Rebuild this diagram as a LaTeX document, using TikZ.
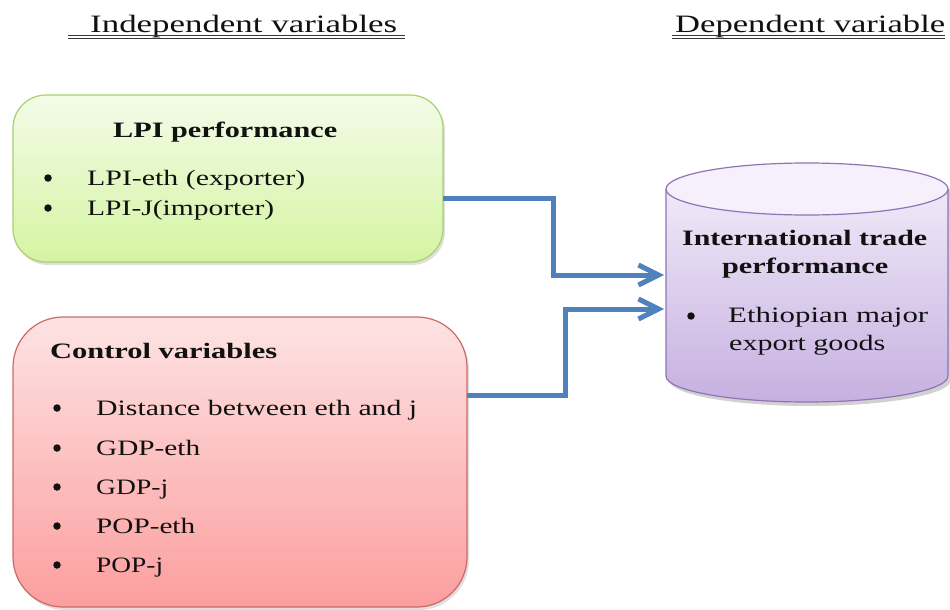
\documentclass[tikz,border=0pt]{standalone}
\usepackage{fontspec}
\setmainfont{Liberation Serif}
\usepackage{graphicx}
\usetikzlibrary{arrows.meta,shadows,calc}
\newcommand\fitw[2]{\resizebox{#1pt}{\height}{#2}}
\definecolor{arrowblue}{HTML}{4F81BD}
\definecolor{gtop}{HTML}{F3FBE8}
\definecolor{gbot}{HTML}{D5F4A2}
\definecolor{gline}{HTML}{A9D06E}
\definecolor{rtop}{HTML}{FDE3E3}
\definecolor{rbot}{HTML}{FC9E9E}
\definecolor{rline}{HTML}{CC6A68}
\definecolor{ptop}{HTML}{F5F0FB}
\definecolor{pbot}{HTML}{C6B0E0}
\definecolor{pline}{HTML}{8E74B4}
\definecolor{ink}{HTML}{111111}
\begin{document}
\begin{tikzpicture}[x=1pt,y=-1pt,
  txt/.style={anchor=base west, inner sep=0pt, text=ink, font=\fontsize{22}{26}\selectfont},
  btxt/.style={txt, font=\fontsize{22}{26}\selectfont\bfseries},
  htxt/.style={txt, font=\fontsize{25}{30}\selectfont},
  bul/.style={circle, fill=ink, inner sep=0pt, minimum size=7.5pt},
  uline/.style={draw=ink!85, line width=1.3pt},
  card/.style={inner sep=0pt, outer sep=0pt, line width=1.2pt,
    drop shadow={opacity=0.25, shadow xshift=2pt, shadow yshift=-3pt}},
  flow/.style={draw=arrowblue, line width=5pt,
    -{Straight Barb[length=20pt, width=20pt]}}
]
\useasboundingbox (0,0) rectangle (950,610);

% headers
\node[htxt] (hind) at (90,32.5) {\fitw{307}{Independent variables}};
\node[htxt] (hdep) at (675,32.5) {\fitw{270}{Dependent variable}};
\draw[uline] (68,35.5) -- (405,35.5);
\draw[uline] (68,38.5) -- (405,38.5);
\draw[uline] (672,35.5) -- (945,35.5);
\draw[uline] (672,38.5) -- (945,38.5);

% LPI box
\node[card, draw=gline, top color=gtop, bottom color=gbot, rounded corners=33pt,
  minimum width=430pt, minimum height=167pt] (lpi) at (228,178.5) {};
\node[btxt] (lpit) at (113,137) {\fitw{224}{LPI performance}};
\node[bul] (b1) at (48,178) {};
\node[txt] (l1) at (87,185) {\fitw{218}{LPI-eth (exporter)}};
\node[bul] (b2) at (48,208) {};
\node[txt] (l2) at (87,215) {\fitw{187}{LPI-J(importer)}};

% Control box
\node[card, draw=rline, top color=rtop, bottom color=rbot, rounded corners=50pt,
  minimum width=454pt, minimum height=290pt] (ctrl) at (240,462) {};
\node[btxt] (ctit) at (50,358) {\fitw{227}{Control variables}};
\node[bul] (c1b) at (57,408) {};
\node[txt] (c1) at (96,415) {\fitw{321}{Distance between eth and j}};
\node[bul] (c2b) at (57,448) {};
\node[txt] (c2) at (96,455) {\fitw{104}{GDP-eth}};
\node[bul] (c3b) at (57,487) {};
\node[txt] (c3) at (96,494) {\fitw{72}{GDP-j}};
\node[bul] (c4b) at (57,526) {};
\node[txt] (c4) at (96,533) {\fitw{99}{POP-eth}};
\node[bul] (c5b) at (57,565) {};
\node[txt] (c5) at (96,572) {\fitw{67}{POP-j}};

% cylinder
\fill[black, opacity=0.18] (669,193) -- (669,380)
  arc[start angle=180, end angle=0, x radius=141, y radius=26] -- (951,193)
  arc[start angle=0, end angle=-180, x radius=141, y radius=26] -- cycle;
\path[top color=ptop, bottom color=pbot] (666,189) -- (666,376)
  arc[start angle=180, end angle=0, x radius=141, y radius=26] -- (948,189)
  arc[start angle=0, end angle=-180, x radius=141, y radius=26] -- cycle;
\draw[pline, line width=1.2pt] (666,189) -- (666,376)
  arc[start angle=180, end angle=0, x radius=141, y radius=26] -- (948,189);
\draw[pline, line width=1.2pt, fill=ptop] (807,189) ellipse [x radius=141, y radius=26];
\node[inner sep=0pt, outer sep=0pt, minimum width=282pt, minimum height=239pt] (trade) at (807,282.5) {};
\node[btxt] (t1) at (682,245) {\fitw{245}{International trade}};
\node[btxt] (t2) at (722,273) {\fitw{166}{performance}};
\node[bul] (tb) at (691,316) {};
\node[txt] (t3) at (728,322) {\fitw{200}{Ethiopian major}};
\node[txt] (t4) at (729,350) {\fitw{156}{export goods}};

% connectors
\draw[flow] ($(lpi.east)+(0,19.5)$) -- ++(110,0) |- ($(trade.west)+(-2,-7.5)$);
\draw[flow] ($(ctrl.east)+(0,-67)$) -- ++(98,0) |- ($(trade.west)+(-2,26.5)$);
\end{tikzpicture}
\end{document}
